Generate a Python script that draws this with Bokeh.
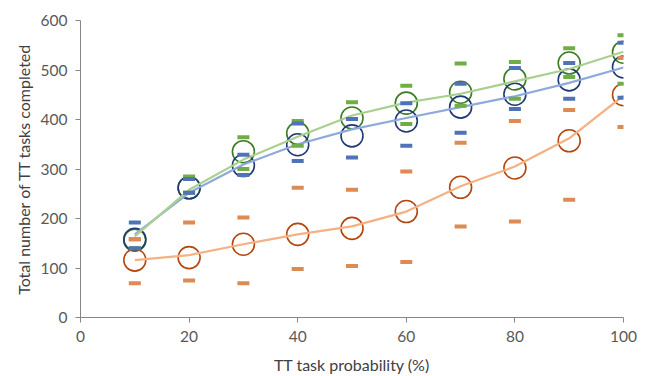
from bokeh.plotting import figure
from bokeh.models import Range1d, FixedTicker
from bokeh.embed import file_html
from bokeh.resources import INLINE

# ---- data ----
prob = [10, 20, 30, 40, 50, 60, 70, 80, 90, 100]

blue_mean = [158, 262, 307, 349, 367, 397, 425, 451, 480, 506]
blue_upper = [192, 280, 329, 392, 401, 433, 472, 504, 514, 555]
blue_lower = [140, 252, 288, 316, 323, 347, 373, 421, 442, 444]
blue_fit = [168, 252, 309, 350, 380, 403, 425, 447, 474, 505]

green_mean = [156, 262, 335, 372, 403, 433, 455, 482, 514, 536]
green_upper = [158, 285, 364, 397, 435, 468, 513, 516, 544, 570]
green_lower = [140, 252, 300, 347, 401, 391, 428, 442, 486, 472]
green_fit = [164, 258, 319, 365, 408, 434, 452, 477, 502, 537]

orange_mean = [116, 121, 148, 168, 180, 214, 263, 302, 357, 450]
orange_upper = [158, 192, 202, 262, 258, 295, 353, 397, 419, 524]
orange_lower = [69, 75, 69, 98, 104, 112, 184, 194, 238, 385]
orange_fit = [116, 126, 148, 168, 184, 214, 265, 305, 362, 448]

x_ticks = [0, 20, 40, 60, 80, 100]
y_ticks = [0, 100, 200, 300, 400, 500, 600]

FONT = "Lato"

p = figure(width=648, height=376, output_backend="svg", toolbar_location=None,
           x_range=Range1d(0, 100), y_range=Range1d(0, 600),
           min_border_left=80, min_border_right=25, min_border_top=20,
           min_border_bottom=58)
p.outline_line_color = None
p.xgrid.visible = False
p.ygrid.visible = False
p.background_fill_color = "white"
p.border_fill_color = "white"

for ax in (p.xaxis[0], p.yaxis[0]):
    ax.axis_line_color = "#868686"
    ax.major_tick_line_color = "#868686"
    ax.minor_tick_line_color = None
    ax.major_tick_in = 0
    ax.major_tick_out = 5
    ax.major_label_text_font = FONT
    ax.major_label_text_font_size = "15.5px"
    ax.major_label_text_color = "#595959"
    ax.axis_label_text_font = FONT
    ax.axis_label_text_font_size = "16px"
    ax.axis_label_text_font_style = "normal"
    ax.axis_label_text_color = "#404040"

p.xaxis.ticker = FixedTicker(ticks=x_ticks)
p.yaxis.ticker = FixedTicker(ticks=y_ticks)
p.xaxis.axis_label = "TT task probability (%)"
p.yaxis.axis_label = "Total number of TT tasks completed"
p.xaxis.major_label_standoff = 8
p.yaxis.major_label_standoff = 8
p.xaxis.axis_label_standoff = 10
p.yaxis.axis_label_standoff = 5

# (mean, upper, lower, fit, circle colour, line colour, dash colour)
blue = (blue_mean, blue_upper, blue_lower, blue_fit, "#1F3A73", "#8EA9DB", "#4F72B8")
green = (green_mean, green_upper, green_lower, green_fit, "#3B7D23", "#A9D08E", "#70AD47")
orange = (orange_mean, orange_upper, orange_lower, orange_fit, "#B4470F", "#F4B183", "#DD8A55")

for mean, up, lo, fit, circ_c, line_c, dash_c in (green, blue, orange):
    p.scatter(prob, mean, marker="circle", size=22, fill_color=None,
              line_color=circ_c, line_width=1.6)

for mean, up, lo, fit, circ_c, line_c, dash_c in (blue, green, orange):
    p.line(prob, fit, line_color=line_c, line_width=2.2)

for mean, up, lo, fit, circ_c, line_c, dash_c in (green, blue, orange):
    for vals in (up, lo):
        p.rect(prob, vals, width=12, height=4, width_units="screen",
               height_units="screen", fill_color=dash_c, line_color=None)

open("out.html", "w").write(file_html(p, INLINE))
